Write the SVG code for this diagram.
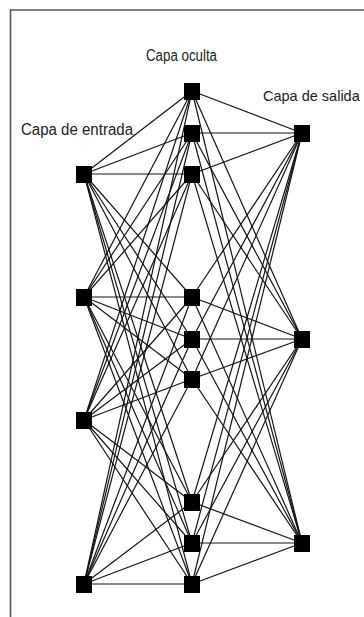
<svg xmlns="http://www.w3.org/2000/svg" width="364" height="617" viewBox="0 0 364 617">
<style>
.frame{stroke:#555;stroke-width:1.6;fill:none}
.conn line{stroke:#141414;stroke-width:1.2}
.node rect{fill:#000}
.lbl{font-family:"Liberation Sans",Arial,sans-serif;font-size:16px;fill:#222}
</style>
<rect width="364" height="617" fill="#fff"/>
<path class="frame" d="M10.5,617 V10 H364"/>
<g id="connectors" class="conn">
<line x1="84" y1="174" x2="192" y2="91"/><line x1="84" y1="174" x2="192" y2="133"/><line x1="84" y1="174" x2="192" y2="174"/><line x1="84" y1="174" x2="192" y2="297"/><line x1="84" y1="174" x2="192" y2="339"/><line x1="84" y1="174" x2="192" y2="379"/><line x1="84" y1="174" x2="192" y2="502"/><line x1="84" y1="174" x2="192" y2="543"/><line x1="84" y1="174" x2="192" y2="584"/>
<line x1="84" y1="297" x2="192" y2="91"/><line x1="84" y1="297" x2="192" y2="133"/><line x1="84" y1="297" x2="192" y2="174"/><line x1="84" y1="297" x2="192" y2="297"/><line x1="84" y1="297" x2="192" y2="339"/><line x1="84" y1="297" x2="192" y2="379"/><line x1="84" y1="297" x2="192" y2="502"/><line x1="84" y1="297" x2="192" y2="543"/><line x1="84" y1="297" x2="192" y2="584"/>
<line x1="84" y1="420" x2="192" y2="91"/><line x1="84" y1="420" x2="192" y2="133"/><line x1="84" y1="420" x2="192" y2="174"/><line x1="84" y1="420" x2="192" y2="297"/><line x1="84" y1="420" x2="192" y2="339"/><line x1="84" y1="420" x2="192" y2="379"/><line x1="84" y1="420" x2="192" y2="502"/><line x1="84" y1="420" x2="192" y2="543"/><line x1="84" y1="420" x2="192" y2="584"/>
<line x1="84" y1="584" x2="192" y2="91"/><line x1="84" y1="584" x2="192" y2="133"/><line x1="84" y1="584" x2="192" y2="174"/><line x1="84" y1="584" x2="192" y2="297"/><line x1="84" y1="584" x2="192" y2="339"/><line x1="84" y1="584" x2="192" y2="379"/><line x1="84" y1="584" x2="192" y2="502"/><line x1="84" y1="584" x2="192" y2="543"/><line x1="84" y1="584" x2="192" y2="584"/>
<line x1="192" y1="91" x2="302" y2="133"/><line x1="192" y1="91" x2="302" y2="339"/><line x1="192" y1="91" x2="302" y2="543"/>
<line x1="192" y1="133" x2="302" y2="133"/><line x1="192" y1="133" x2="302" y2="339"/><line x1="192" y1="133" x2="302" y2="543"/>
<line x1="192" y1="174" x2="302" y2="133"/><line x1="192" y1="174" x2="302" y2="339"/><line x1="192" y1="174" x2="302" y2="543"/>
<line x1="192" y1="297" x2="302" y2="133"/><line x1="192" y1="297" x2="302" y2="339"/><line x1="192" y1="297" x2="302" y2="543"/>
<line x1="192" y1="339" x2="302" y2="133"/><line x1="192" y1="339" x2="302" y2="339"/><line x1="192" y1="339" x2="302" y2="543"/>
<line x1="192" y1="379" x2="302" y2="133"/><line x1="192" y1="379" x2="302" y2="339"/><line x1="192" y1="379" x2="302" y2="543"/>
<line x1="192" y1="502" x2="302" y2="133"/><line x1="192" y1="502" x2="302" y2="339"/><line x1="192" y1="502" x2="302" y2="543"/>
<line x1="192" y1="543" x2="302" y2="133"/><line x1="192" y1="543" x2="302" y2="339"/><line x1="192" y1="543" x2="302" y2="543"/>
<line x1="192" y1="584" x2="302" y2="133"/><line x1="192" y1="584" x2="302" y2="339"/><line x1="192" y1="584" x2="302" y2="543"/>
</g>
<g id="in1" class="node"><rect x="76" y="166" width="16" height="17"/></g>
<g id="in2" class="node"><rect x="76" y="289" width="16" height="17"/></g>
<g id="in3" class="node"><rect x="76" y="412" width="16" height="17"/></g>
<g id="in4" class="node"><rect x="76" y="576" width="16" height="17"/></g>
<g id="h1" class="node"><rect x="184" y="83" width="16" height="17"/></g>
<g id="h2" class="node"><rect x="184" y="125" width="16" height="17"/></g>
<g id="h3" class="node"><rect x="184" y="166" width="16" height="17"/></g>
<g id="h4" class="node"><rect x="184" y="289" width="16" height="17"/></g>
<g id="h5" class="node"><rect x="184" y="331" width="16" height="17"/></g>
<g id="h6" class="node"><rect x="184" y="371" width="16" height="17"/></g>
<g id="h7" class="node"><rect x="184" y="494" width="16" height="17"/></g>
<g id="h8" class="node"><rect x="184" y="535" width="16" height="17"/></g>
<g id="h9" class="node"><rect x="184" y="576" width="16" height="17"/></g>
<g id="o1" class="node"><rect x="294" y="125" width="16" height="17"/></g>
<g id="o2" class="node"><rect x="294" y="331" width="16" height="17"/></g>
<g id="o3" class="node"><rect x="294" y="535" width="16" height="17"/></g>
<g id="labels">
<text class="lbl" x="146" y="61" textLength="71" lengthAdjust="spacingAndGlyphs">Capa oculta</text>
<text class="lbl" x="21" y="135" textLength="112" lengthAdjust="spacingAndGlyphs">Capa de entrada</text>
<text class="lbl" x="263" y="101" style="font-size:14.5px">Capa de salida</text>
</g>
</svg>
